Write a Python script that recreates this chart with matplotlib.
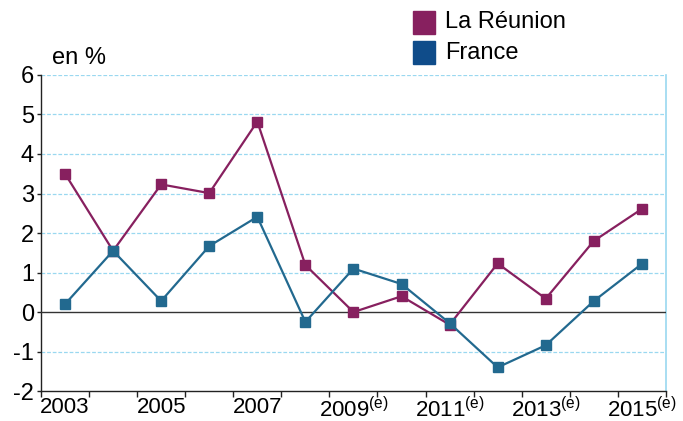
import numpy as np
import matplotlib
matplotlib.use('Agg')
import matplotlib.pyplot as plt
from matplotlib.patches import Rectangle

plt.rcParams['font.family'] = ['Liberation Sans', 'DejaVu Sans']

years = ['2003', '2004', '2005', '2006', '2007', '2008', '2009', '2010',
         '2011', '2012', '2013', '2014', '2015']
estimated = ['2009', '2011', '2013', '2015']
reunion = [3.5, 1.55, 3.23, 3.01, 4.82, 1.19, 0.0, 0.4, -0.32, 1.23, 0.34, 1.8, 2.61]
france = [0.2, 1.55, 0.28, 1.67, 2.41, -0.25, 1.1, 0.71, -0.28, -1.4, -0.84, 0.28, 1.22]

c_reu = '#87205f'
c_fra = '#22698f'
grid_c = '#9ad8f0'

fig = plt.figure(figsize=(6.83, 4.21), dpi=100)
ax = fig.add_axes([0.060, 0.071, 0.915, 0.751])

x = np.arange(len(years))
ax.plot(x, reunion, color=c_reu, lw=1.6, marker='s', ms=6.5, zorder=4)
ax.plot(x, france, color=c_fra, lw=1.6, marker='s', ms=6.5, zorder=5)

ax.set_xlim(-0.5, len(years) - 0.5)
ax.set_ylim(-2, 6)

# grille pointillée sauf zéro
for v in range(-1, 7):
    if v == 0:
        ax.axhline(0, color='#333333', lw=1.0, zorder=3)
    else:
        ax.axhline(v, color=grid_c, lw=0.9, ls=(0, (3, 1.5)), zorder=1)

ax.spines['top'].set_visible(False)
ax.spines['right'].set_color(grid_c)
ax.spines['right'].set_linewidth(1.2)
for s in ['left', 'bottom']:
    ax.spines[s].set_color('#222222')
    ax.spines[s].set_linewidth(1.0)

ax.set_yticks(range(-2, 7))
ax.set_yticklabels([str(v) for v in range(-2, 7)])
ax.tick_params(axis='y', length=3, width=1, labelsize=17, pad=2, color='#222222')

ax.set_xticks(np.arange(-0.5, len(years), 1))
ax.set_xticklabels([])
ax.tick_params(axis='x', which='major', length=4, width=1, direction='out', color='#222222')
labs = []
for y in years[::2]:
    if y in estimated:
        labs.append(y + r'$^{\mathregular{(e)}}$')
    else:
        labs.append(y)
ax.set_xticks(x[::2], minor=True)
ax.set_xticklabels(labs, minor=True)
ax.tick_params(axis='x', which='minor', length=0, labelsize=16, pad=4)

fig.text(52 / 683, 1 - 58 / 421, 'en %', fontsize=17, va='center', ha='left')

# légende
sq_w, sq_h = 22 / 683, 23 / 421
fig.patches.append(Rectangle((413 / 683, 1 - 34 / 421), sq_w, sq_h,
                             transform=fig.transFigure, color=c_reu))
fig.patches.append(Rectangle((413 / 683, 1 - 64 / 421), sq_w, sq_h,
                             transform=fig.transFigure, color='#0f4c8a'))
fig.text(445 / 683, 1 - 22 / 421, 'La Réunion', fontsize=17, va='center', ha='left')
fig.text(445 / 683, 1 - 53 / 421, 'France', fontsize=17, va='center', ha='left')

fig.savefig('out.png', dpi=100)
